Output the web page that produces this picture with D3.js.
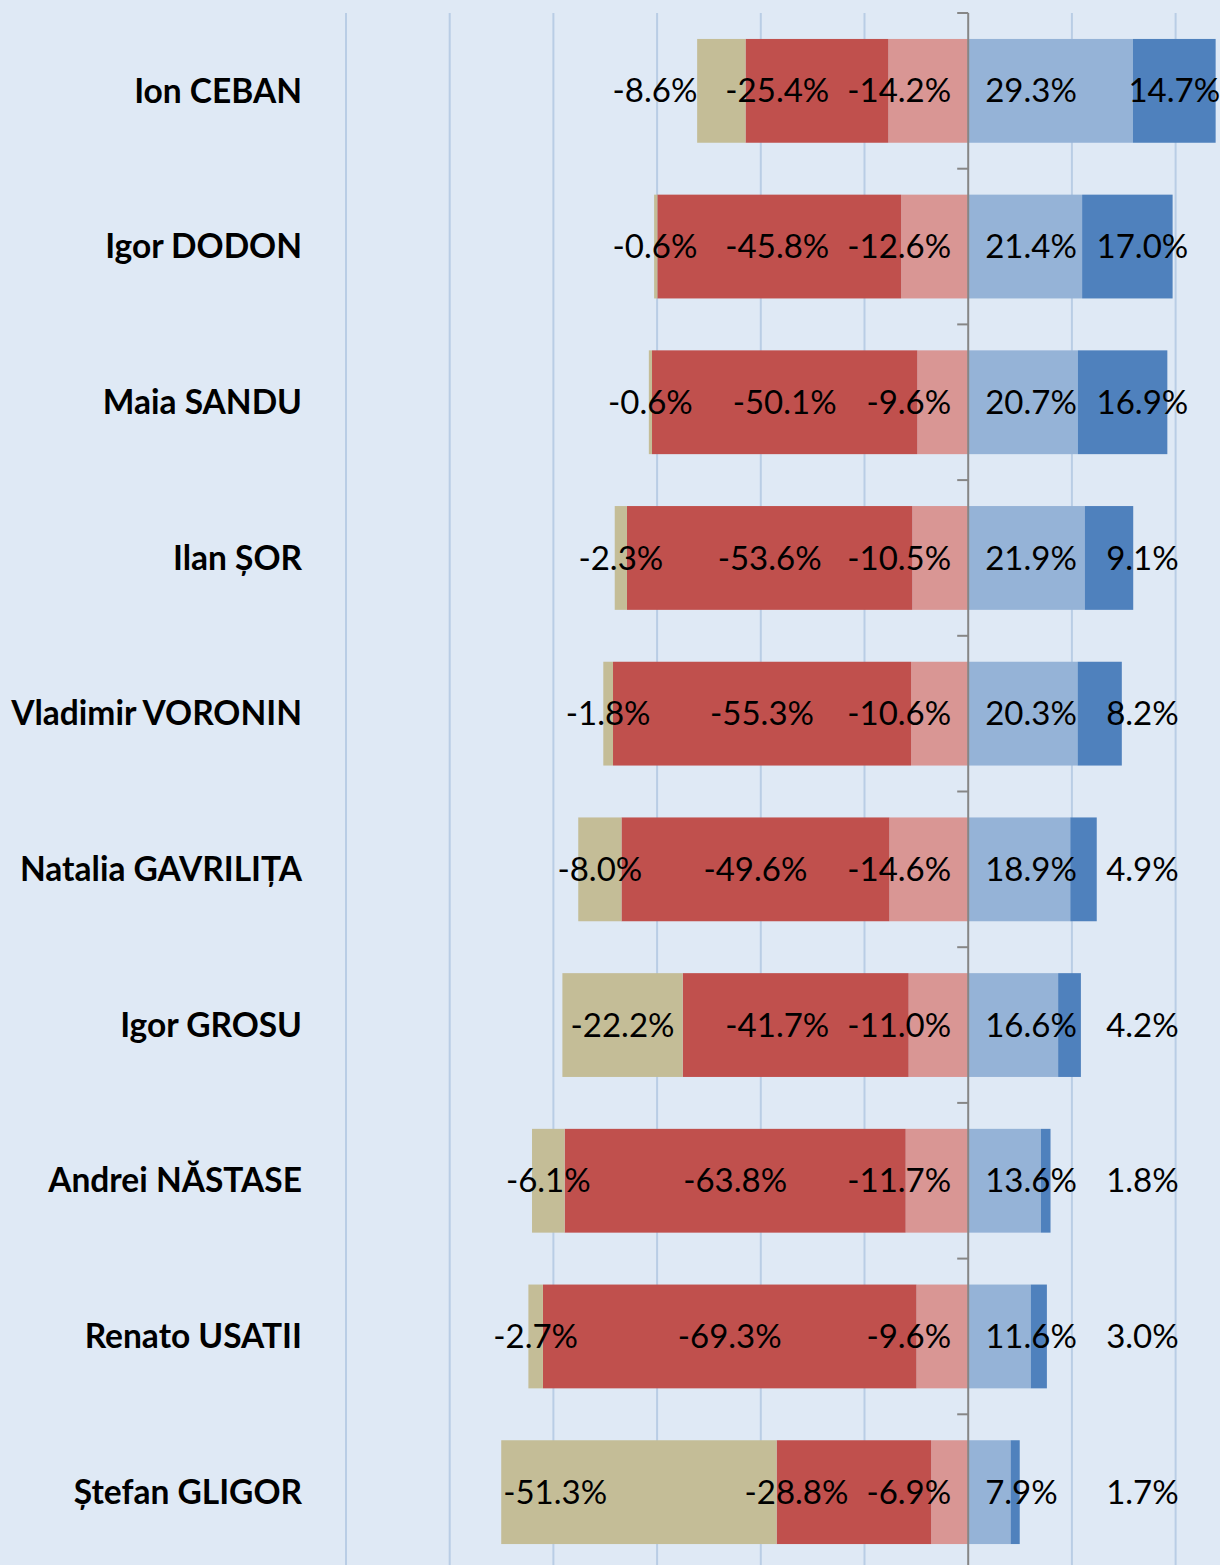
<!DOCTYPE html>
<html>
<head>
<meta charset="utf-8">
<script src="https://cdn.jsdelivr.net/npm/d3@7"></script>
<style>
  body { margin: 0; background: #dfe9f5; }
  svg { display: block; }
</style>
</head>
<body>
<svg id="chart"></svg>
<script>
// candidates, top to bottom
var categories = ["Ion CEBAN", "Igor DODON", "Maia SANDU", "Ilan ȘOR", "Vladimir VORONIN",
    "Natalia GAVRILIȚA", "Igor GROSU", "Andrei NĂSTASE", "Renato USATII", "Ștefan GLIGOR"];

// negative side, outermost first
var negOuter  = [8.6, 0.6, 0.6, 2.3, 1.8, 8.0, 22.2, 6.1, 2.7, 51.3];
var negStrong = [25.4, 45.8, 50.1, 53.6, 55.3, 49.6, 41.7, 63.8, 69.3, 28.8];
var negMild   = [14.2, 12.6, 9.6, 10.5, 10.6, 14.6, 11.0, 11.7, 9.6, 6.9];
// positive side
var posMild   = [29.3, 21.4, 20.7, 21.9, 20.3, 18.9, 16.6, 13.6, 11.6, 7.9];
var posStrong = [14.7, 17.0, 16.9, 9.1, 8.2, 4.9, 4.2, 1.8, 3.0, 1.7];

var gridTicks = [-120, -100, -80, -60, -40, -20, 20, 40, 60];

var width = 1220;
var height = 1565;

var keys = ["negMild", "negStrong", "negOuter", "posMild", "posStrong"];
var colors = {
    negOuter: "#c4bd97",
    negStrong: "#c0504d",
    negMild: "#d99694",
    posMild: "#95b3d7",
    posStrong: "#4f81bd"
};
var raw = {negOuter: negOuter, negStrong: negStrong, negMild: negMild, posMild: posMild, posStrong: posStrong};

// bars are scaled so every row spans 100%, labels keep the survey values
var rows = categories.map(function(name, i) {
    var total = negOuter[i] + negStrong[i] + negMild[i] + posMild[i] + posStrong[i];
    return {
        name: name,
        negOuter: -negOuter[i] / total * 100,
        negStrong: -negStrong[i] / total * 100,
        negMild: -negMild[i] / total * 100,
        posMild: posMild[i] / total * 100,
        posStrong: posStrong[i] / total * 100
    };
});

var svg = d3.select("#chart")
    .attr("width", width)
    .attr("height", height);

svg.append("rect")
    .attr("width", width)
    .attr("height", height)
    .attr("fill", "#dfe9f5");

var plotTop = 13;
var x = d3.scaleLinear()
    .domain([-120, 60])
    .range([346, 346 + 180 * 5.185]);

var y = d3.scaleBand()
    .domain(categories)
    .range([plotTop, plotTop + categories.length * 155.7])
    .paddingInner(1 / 3)
    .paddingOuter(1 / 6);

// gridlines
svg.append("g")
    .selectAll("line")
    .data(gridTicks)
    .join("line")
    .attr("x1", d => x(d))
    .attr("x2", d => x(d))
    .attr("y1", plotTop)
    .attr("y2", height)
    .attr("stroke", "#b9cde5")
    .attr("stroke-width", 2);

var stacked = d3.stack()
    .keys(keys)
    .offset(d3.stackOffsetDiverging)(rows);

svg.append("g")
    .selectAll("g")
    .data(stacked)
    .join("g")
    .attr("fill", d => colors[d.key])
    .selectAll("rect")
    .data(d => d)
    .join("rect")
    .attr("x", d => x(Math.min(d[0], d[1])))
    .attr("width", d => Math.abs(x(d[1]) - x(d[0])))
    .attr("y", d => y(d.data.name))
    .attr("height", y.bandwidth());

// vertical axis at zero with category ticks
var axis = svg.append("g")
    .attr("transform", "translate(" + x(0) + ",0)");
axis.append("line")
    .attr("y1", plotTop)
    .attr("y2", height)
    .attr("stroke", "#868686")
    .attr("stroke-width", 2);
axis.selectAll(".bound")
    .data(d3.range(categories.length + 1))
    .join("line")
    .attr("class", "bound")
    .attr("x1", -11)
    .attr("x2", 0)
    .attr("y1", d => plotTop + d * y.step())
    .attr("y2", d => plotTop + d * y.step())
    .attr("stroke", "#868686")
    .attr("stroke-width", 2);

// category labels
svg.append("g")
    .selectAll("text")
    .data(categories)
    .join("text")
    .attr("x", 302)
    .attr("y", d => y(d) + y.bandwidth() / 2)
    .attr("dy", "0.35em")
    .attr("text-anchor", "end")
    .attr("font-family", "Lato, 'Open Sans', sans-serif")
    .attr("font-weight", "bold")
    .attr("font-size", 33.5)
    .attr("fill", "#000")
    .text(d => d);

// data labels
var labels = svg.append("g")
    .attr("font-family", "Lato, 'Open Sans', sans-serif")
    .attr("font-size", 33)
    .attr("fill", "#000");

function fmt(key, v) {
    return (key.indexOf("neg") === 0 ? "-" : "") + v.toFixed(1) + "%";
}

var byKey = {};
stacked.forEach(s => { byKey[s.key] = s; });

rows.forEach(function(row, i) {
    var cy = y(row.name) + y.bandwidth() / 2;
    var x0 = x(0);
    function seg(key) {
        var d = byKey[key][i];
        var a = x(Math.min(d[0], d[1])), b = x(Math.max(d[0], d[1]));
        return {a: a, b: b, c: (a + b) / 2};
    }
    function add(key) {
        return labels.append("text")
            .attr("y", cy)
            .attr("dy", "0.35em")
            .text(fmt(key, raw[key][i]));
    }

    var tMild = add("negMild").attr("x", x0 - 17).attr("text-anchor", "end");
    var leftMild = x0 - 17 - tMild.node().getComputedTextLength();

    // keep the strong label clear of the mild one
    var tStrong = add("negStrong").attr("text-anchor", "middle");
    var ws = tStrong.node().getComputedTextLength();
    var cs = seg("negStrong").c;
    if (cs + ws / 2 > leftMild - 18) cs = leftMild - 18 - ws / 2;
    tStrong.attr("x", cs);
    var leftStrong = cs - ws / 2;

    var tOuter = add("negOuter");
    var wo = tOuter.node().getComputedTextLength();
    var so = seg("negOuter");
    if (so.b - so.a > wo * 2.5) {
        tOuter.attr("x", so.a + 2).attr("text-anchor", "start");
    } else {
        var co = so.c;
        if (co + wo / 2 > leftStrong - 28) co = leftStrong - 28 - wo / 2;
        tOuter.attr("x", co).attr("text-anchor", "middle");
    }

    add("posMild").attr("x", x0 + 17).attr("text-anchor", "start");

    add("posStrong")
        .attr("x", Math.max(seg("posStrong").c, x(33.6)))
        .attr("text-anchor", "middle");
});
</script>
</body>
</html>
